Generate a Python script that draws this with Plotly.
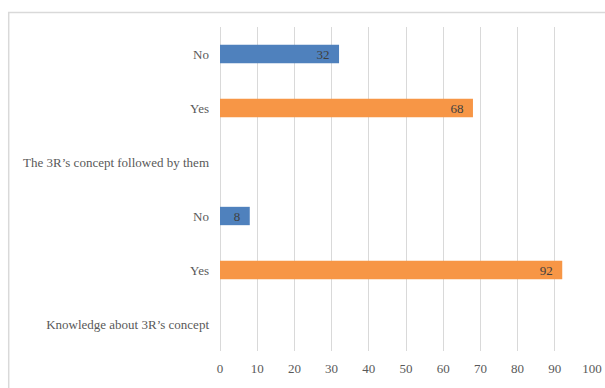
import plotly.graph_objects as go

# Category keys, bottom to top, with their displayed labels
cat_keys = ["know_head", "know_yes", "know_no", "follow_head", "follow_yes", "follow_no"]
cat_labels = ["Knowledge about 3R’s concept", "Yes", "No",
              "The 3R’s concept followed by them", "Yes", "No"]

# Responses (%)
yes_keys = ["know_yes", "follow_yes"]
yes_values = [92, 68]
no_keys = ["know_no", "follow_no"]
no_values = [8, 32]

x_ticks = list(range(0, 101, 10))

FONT = "Liberation Serif"
TXT = "#595959"
GRID = "#d9d9d9"


def bar_trace(keys, values, color):
    return go.Bar(
        y=keys, x=values, orientation="h",
        marker=dict(color=color, line=dict(width=0)),
        text=[f"{v}  " for v in values], textposition="inside",
        insidetextanchor="end", textangle=0, constraintext="none",
        textfont=dict(family=FONT, size=13, color="#404040"),
        width=0.34, showlegend=False,
    )


fig = go.Figure()
fig.add_trace(bar_trace(yes_keys, yes_values, "#F79646"))
fig.add_trace(bar_trace(no_keys, no_values, "#4F81BD"))

fig.update_layout(
    template="none",
    width=605, height=388,
    margin=dict(l=220, r=13, t=27, b=37),
    paper_bgcolor="white", plot_bgcolor="white",
    barmode="overlay",
    font=dict(family=FONT, size=13, color=TXT),
    xaxis=dict(
        range=[0, 100], tickvals=x_ticks, showgrid=True, gridcolor=GRID, gridwidth=1,
        zeroline=True, zerolinecolor=GRID, zerolinewidth=1, showline=False,
        ticks="", ticklabelstandoff=8, tickfont=dict(family=FONT, size=13, color=TXT),
    ),
    yaxis=dict(
        type="category", categoryorder="array", categoryarray=cat_keys,
        range=[-0.5, len(cat_keys) - 0.5],
        tickvals=cat_keys, ticktext=cat_labels, showgrid=False, zeroline=False,
        showline=False, ticks="", ticklabelstandoff=10,
        tickfont=dict(family=FONT, size=13, color=TXT),
    ),
    shapes=[dict(
        type="rect", xref="paper", yref="paper",
        x0=-0.568, x1=1.2, y0=-0.3, y1=1.045,
        line=dict(color="#d9d9d9", width=1.5), fillcolor="rgba(0,0,0,0)", layer="below",
    )],
)

fig.write_html("out.html")
